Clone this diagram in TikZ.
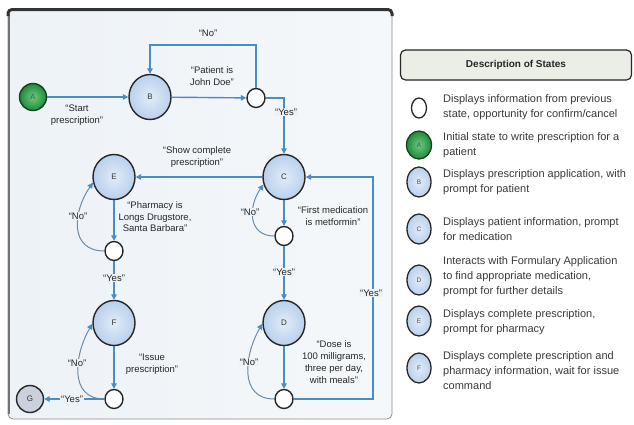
\documentclass[tikz,border=0pt]{standalone}
\usepackage{fontspec}
\setmainfont{Liberation Sans}
\usetikzlibrary{arrows.meta,shapes.geometric}
\definecolor{lineblue}{HTML}{4A8CC6}
\definecolor{loopblue}{HTML}{6A8CAA}
\definecolor{nodein}{HTML}{E2ECF8}
\definecolor{nodeout}{HTML}{B9D0EC}
\definecolor{panelbg}{HTML}{EDF2F7}
\definecolor{panelbgr}{HTML}{F5F8FA}
\definecolor{edge}{HTML}{262626}
\definecolor{greenin}{HTML}{6CCB7E}
\definecolor{greenout}{HTML}{1F8A3B}
\definecolor{greenedge}{HTML}{16401F}
\definecolor{gfill}{HTML}{CBD0DD}
\definecolor{txt}{HTML}{262626}
\definecolor{legtxt}{HTML}{3A3A3A}
\definecolor{hdrfill}{HTML}{EBEEE6}
\begin{document}
\begin{tikzpicture}[x=1pt,y=1pt,
  st/.style={ellipse, draw=edge, line width=1.4pt, inner sep=0pt, minimum width=42pt, minimum height=45pt,
    inner color=nodein, outer color=nodeout, font=\fontsize{8}{9}\selectfont, text=black!80},
  sm/.style={ellipse, draw=edge, line width=1.4pt, fill=white, minimum width=18pt, minimum height=19pt, inner sep=0pt},
  startst/.style={circle, draw=greenedge, line width=1.4pt, inner color=greenin, outer color=greenout,
    minimum size=27pt, inner sep=0pt, font=\fontsize{7.5}{8}\selectfont, text=black!70},
  endst/.style={circle, draw=edge, line width=1.4pt, fill=gfill, minimum size=27pt, inner sep=0pt,
    font=\fontsize{8}{9}\selectfont, text=black!80},
  flow/.style={draw=lineblue, line width=1.4pt, -{Triangle[length=5.5pt,width=5.5pt]}},
  noloop/.style={draw=loopblue, line width=1pt, -{Triangle[length=5.5pt,width=5.5pt,color=lineblue]}},
  lbl/.style={font=\fontsize{9.5}{11.5}\selectfont, align=center, text=txt, inner sep=1pt},
  onl/.style={lbl, fill=panelbg},
  lgt/.style={font=\fontsize{11}{15}\selectfont, align=left, text=legtxt, anchor=west, inner sep=0pt},
  lst/.style={ellipse, draw=edge, line width=1.3pt, inner sep=0pt, minimum width=24pt, minimum height=30pt,
    inner color=nodein, outer color=nodeout, font=\fontsize{6.5}{7}\selectfont, text=black!70},
  lsm/.style={ellipse, draw=edge, line width=1.3pt, fill=white, minimum width=15pt, minimum height=20pt, inner sep=0pt},
  lstart/.style={ellipse, draw=greenedge, line width=1.3pt, inner color=greenin, outer color=greenout,
    minimum width=25pt, minimum height=28pt, inner sep=0pt, font=\fontsize{6.5}{7}\selectfont, text=black!70}
]
\useasboundingbox (0,0) rectangle (634,-424);
\fill[white] (0,0) rectangle (634,-424);
% panel
\shade[left color=panelbg, right color=panelbgr, rounded corners=5pt] (8,-9) rectangle (392,-419);
\draw[black!45, line width=0.8pt, rounded corners=5pt] (8,-9) rectangle (392,-419);
\draw[black!55, line width=2.5pt] (9,-14) -- (9,-414);
\draw[black!80, line width=3pt, rounded corners=4pt] (8,-16) -- (8,-9.5) -- (392,-9.5) -- (392,-16);

% states
\node[startst] (A) at (33,-97) {A};
\node[st] (B) at (150,-97) {B};
\node[sm] (sB) at (256,-98) {};
\node[st] (C) at (284,-177) {C};
\node[sm] (sC) at (284,-236) {};
\node[st] (D) at (284,-323) {D};
\node[sm] (sD) at (284,-399) {};
\node[st] (E) at (114,-177) {E};
\node[sm] (sE) at (114,-251) {};
\node[st] (F) at (114,-323) {F};
\node[sm] (sF) at (114,-399) {};
\node[endst] (G) at (30,-399) {G};
\coordinate (rt) at (373,-177);
\coordinate (nb) at (203,-45);

% connectors
\draw[flow] (A) -- (B);
\draw[flow] (B) -- (sB);
\draw[flow] (sB.north) |- (nb) -| (B.north);
\draw[flow] (sB.east) -| (C.north);
\draw[flow] (C.west) -- (E.east);
\draw[flow] (C.south) -- (sC.north);
\draw[noloop] (sC.west) to[out=180,in=-125,looseness=1.3] (C.200);
\draw[flow] (sC.south) -- (D.north);
\draw[flow] (D.south) -- (sD.north);
\draw[noloop] (sD.west) to[out=180,in=-120,looseness=1.2] (D.182);
\draw[flow] (sD.east) -| (rt) -- (C.east);
\draw[flow] (E.south) -- (sE.north);
\draw[noloop] (sE.west) to[out=180,in=-125,looseness=1.3] (E.195);
\draw[flow] (sE.south) -- (F.north);
\draw[flow] (F.south) -- (sF.north);
\draw[noloop] (sF.west) to[out=180,in=-120,looseness=1.2] (F.182);
\draw[flow] (sF.west) -- (G.east);

% labels
\node[lbl] (lStart) at (77,-115) {``Start\\prescription''};
\node[lbl] (lNoB) at (208,-33) {``No''};
\node[lbl] (lJohn) at (212,-76) {``Patient is\\John Doe''};
\node[onl] (lYesB) at (286,-112) {``Yes''};
\node[lbl] (lShow) at (197,-157) {``Show complete\\prescription''};
\node[lbl] (lFirst) at (333,-216) {``First medication\\is metformin''};
\node[onl] (lNoC) at (250,-212) {``No''};
\node[onl] (lYesC) at (284,-272) {``Yes''};
\node[onl] (lYesR) at (371,-293) {``Yes''};
\node[lbl, font=\fontsize{9.5}{12}\selectfont] (lDose) at (334,-362) {``Dose is\\100 milligrams,\\three per day,\\with meals''};
\node[onl] (lNoD) at (249,-362) {``No''};
\node[lbl] (lPharm) at (155,-217) {``Pharmacy is\\Longs Drugstore,\\Santa Barbara''};
\node[onl] (lNoE) at (78,-216) {``No''};
\node[onl] (lYesE) at (114,-278) {``Yes''};
\node[lbl] (lIssue) at (152,-364) {``Issue\\prescription''};
\node[onl] (lNoF) at (77,-363) {``No''};
\node[onl] (lYesF) at (72,-399) {``Yes''};

% legend
\node[draw=edge, line width=1.2pt, rounded corners=5pt, fill=hdrfill, minimum width=231pt, minimum height=30pt,
  font=\bfseries\fontsize{10}{12}\selectfont, text=black!85] (hdr) at (516,-65) {Description of States};
\node[lsm] (L1) at (419,-108) {};
\node[lgt] (T1) at (443,-107.5) {Displays information from previous\\state, opportunity for confirm/cancel};
\node[lstart] (L2) at (419,-145) {A};
\node[lgt] (T2) at (443,-145.5) {Initial state to write prescription for a\\patient};
\node[lst] (L3) at (419,-182) {B};
\node[lgt] (T3) at (443,-182.5) {Displays prescription application, with\\prompt for patient};
\node[lst] (L4) at (419,-229) {C};
\node[lgt] (T4) at (443,-229.5) {Displays patient information, prompt\\for medication};
\node[lst] (L5) at (419,-280) {D};
\node[lgt] (T5) at (443,-277) {Interacts with Formulary Application\\to find appropriate medication,\\prompt for further details};
\node[lst] (L6) at (419,-321) {E};
\node[lgt] (T6) at (443,-322.5) {Displays complete prescription,\\prompt for pharmacy};
\node[lst] (L7) at (419,-368) {F};
\node[lgt] (T7) at (443,-371) {Displays complete prescription and\\pharmacy information, wait for issue\\command};
\end{tikzpicture}
\end{document}
